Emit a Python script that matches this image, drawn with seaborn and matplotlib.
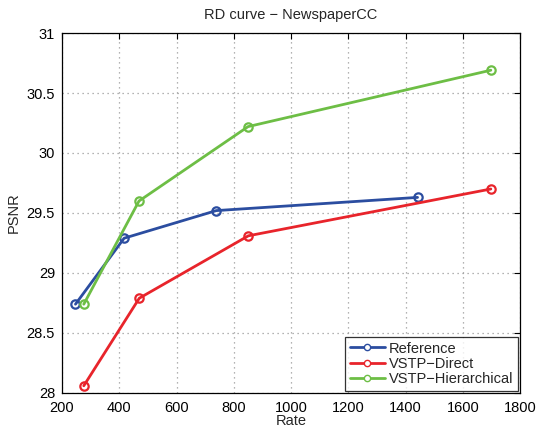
import pandas as pd
import matplotlib
matplotlib.use('Agg')
import matplotlib.pyplot as plt
import seaborn as sns

# data
ref_rate = [247, 417, 739, 1442]
ref_psnr = [28.74, 29.29, 29.52, 29.63]
direct_rate = [276, 470, 851, 1698]
direct_psnr = [28.06, 28.79, 29.31, 29.70]
hier_rate = [276, 469, 850, 1698]
hier_psnr = [28.74, 29.60, 30.22, 30.69]

series = ['Reference', 'VSTP\u2212Direct', 'VSTP\u2212Hierarchical']
colors = ['#2B4DA0', '#E8242B', '#6DBE45']


def main():
    df = pd.concat([
        pd.DataFrame({'Rate': ref_rate, 'PSNR': ref_psnr, 'method': series[0]}),
        pd.DataFrame({'Rate': direct_rate, 'PSNR': direct_psnr, 'method': series[1]}),
        pd.DataFrame({'Rate': hier_rate, 'PSNR': hier_psnr, 'method': series[2]}),
    ], ignore_index=True)

    sns.set_style('white')
    plt.rcParams['font.family'] = ['Liberation Sans', 'DejaVu Sans']
    plt.rcParams['xtick.direction'] = 'in'
    plt.rcParams['ytick.direction'] = 'in'

    fig = plt.figure(figsize=(5.36, 4.32), dpi=100)
    ax = fig.add_axes([0.1157, 0.0903, 0.8545, 0.8333])

    sns.lineplot(data=df, x='Rate', y='PSNR', hue='method', hue_order=series,
                 palette=colors, sort=False, marker='o', markersize=6,
                 markerfacecolor='none', markeredgewidth=1.6, linewidth=2,
                 legend=False, ax=ax)
    lines = ax.get_lines()[:3]
    for line, c in zip(lines, colors):
        line.set_markeredgecolor(c)

    ax.set_xlim(200, 1800)
    ax.set_ylim(28, 31)
    ax.set_xticks(range(200, 1801, 200))
    ax.set_yticks([28, 28.5, 29, 29.5, 30, 30.5, 31])
    ax.set_yticklabels(['28', '28.5', '29', '29.5', '30', '30.5', '31'])
    ax.grid(True, linestyle=(0, (1, 3)), color='#9a9a9a', linewidth=0.9)
    ax.tick_params(labelsize=10.5, length=4, top=True, right=True, colors='black')
    ax.tick_params(axis='x', pad=6)
    ax.tick_params(axis='y', pad=5)
    for s in ax.spines.values():
        s.set_color('black')
        s.set_linewidth(0.9)

    ax.set_xlabel('Rate', fontsize=10.5, labelpad=-1)
    ax.set_ylabel('PSNR', fontsize=10.5, labelpad=4)
    ax.set_title('RD curve \u2212 NewspaperCC', fontsize=10.5, pad=10)

    leg = ax.legend(lines, series, loc='lower right', fontsize=10.5, frameon=True,
                    fancybox=False, edgecolor='black', borderaxespad=0.15,
                    handlelength=2.4, labelspacing=0.1, borderpad=0.3,
                    handletextpad=0.3)
    leg.get_frame().set_linewidth(0.9)
    for h, c in zip(leg.get_lines(), colors):
        h.set_markersize(4.5)
        h.set_markeredgewidth(1.0)
        h.set_markerfacecolor('white')
        h.set_markeredgecolor(c)

    fig.savefig('out.png', dpi=100)
    plt.close(fig)


if __name__ == "__main__":
    main()
